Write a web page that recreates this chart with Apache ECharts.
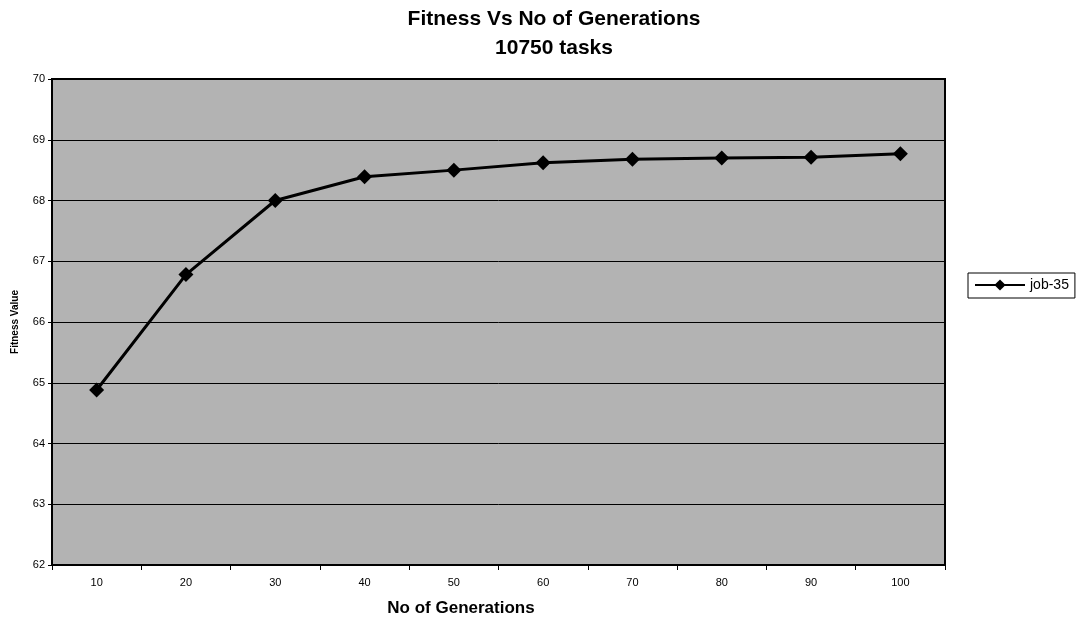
<!DOCTYPE html>
<html><head><meta charset="utf-8">
<script src="https://cdn.jsdelivr.net/npm/echarts@6/dist/echarts.min.js"></script>
<style>html,body{margin:0;padding:0;background:#fff}#c{width:1076px;height:628px}</style>
</head><body><div id="c"></div>
<script>
const categories = ['10','20','30','40','50','60','70','80','90','100'];
const job35 = [64.88, 66.78, 68.0, 68.39, 68.5, 68.62, 68.68, 68.7, 68.71, 68.77];
const yMin = 62, yMax = 70, yStep = 1;

const chart = echarts.init(document.getElementById('c'));
const font = 'Liberation Sans, Arial, sans-serif';
chart.setOption({
  animation: false,
  backgroundColor: '#fff',
  title: [
    { text: 'Fitness Vs No of Generations\n10750 tasks', left: 549, top: 0, textAlign: 'center',
      textStyle: { fontFamily: font, fontSize: 21, fontWeight: 'bold', color: '#000', lineHeight: 29 } },
    { text: 'No of Generations', left: 456, top: 595, textAlign: 'center',
      textStyle: { fontFamily: font, fontSize: 17, fontWeight: 'bold', color: '#000' } }
  ],
  legend: {
    data: ['job-35'], left: 968, top: 273, orient: 'vertical',
    borderColor: '#000', borderWidth: 1, padding: [5, 6, 6, 6], itemWidth: 50, itemHeight: 14,
    textStyle: { fontFamily: font, fontSize: 14, color: '#000' }, itemGap: 0
  },
  grid: { left: 52, right: 131, top: 79, bottom: 63, show: true, backgroundColor: '#b3b3b3', borderColor: '#000', borderWidth: 2 },
  xAxis: {
    type: 'category', data: categories, boundaryGap: true,
    axisLine: { lineStyle: { color: '#000', width: 2 } },
    axisTick: { show: true, length: 5, lineStyle: { color: '#000' } },
    axisLabel: { fontFamily: font, fontSize: 11, color: '#000', margin: 12 }
  },
  yAxis: {
    type: 'value', min: yMin, max: yMax, interval: yStep,
    name: 'Fitness Value', nameLocation: 'middle', nameGap: 32,
    nameTextStyle: { fontFamily: font, fontSize: 10, fontWeight: 'bold', color: '#000' },
    axisLine: { show: true, lineStyle: { color: '#000', width: 2 } },
    axisTick: { show: true, length: 4, inside: false, lineStyle: { color: '#000' } },
    axisLabel: { fontFamily: font, fontSize: 11, color: '#000', margin: 7 },
    splitLine: { lineStyle: { color: '#000', width: 1 } }
  },
  series: [{
    name: 'job-35', type: 'line', data: job35,
    symbol: 'diamond', symbolSize: 15,
    lineStyle: { color: '#000', width: 3 }, itemStyle: { color: '#000' }
  }]
});
</script></body></html>
